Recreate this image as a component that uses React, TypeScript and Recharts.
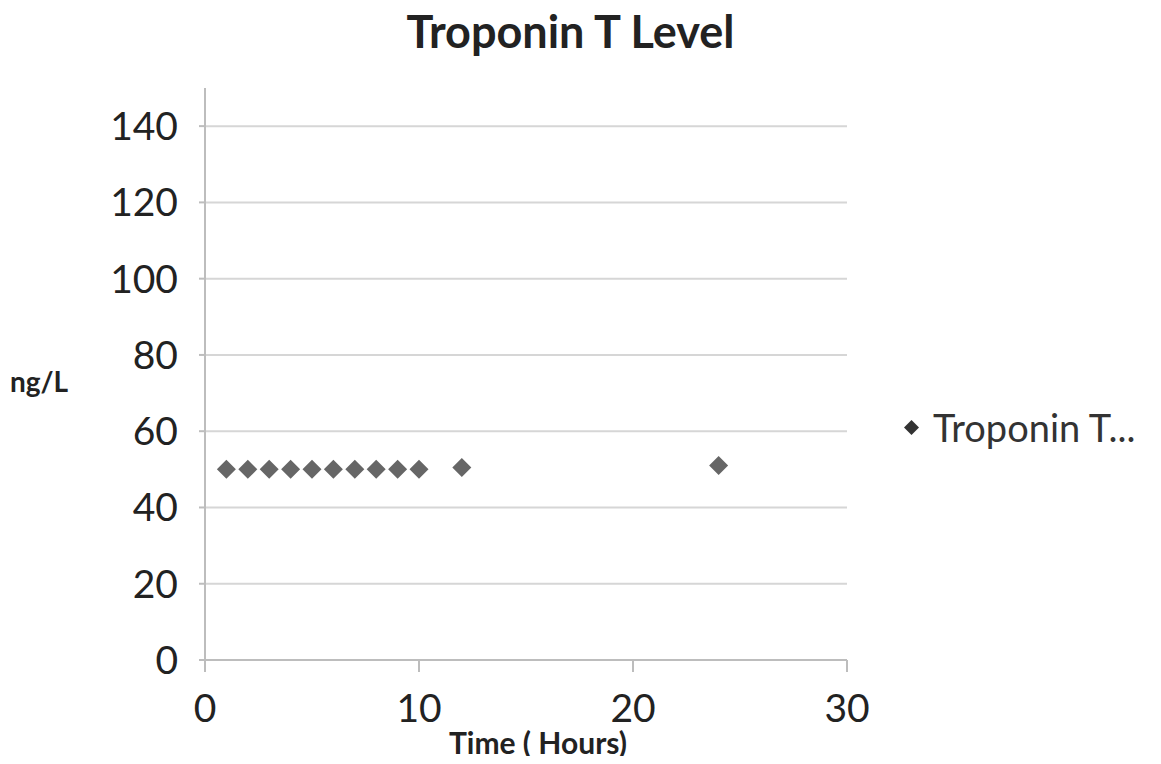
import React from 'react';
import { ScatterChart, Scatter, XAxis, YAxis, ReferenceLine } from 'recharts';

const hours = [1, 2, 3, 4, 5, 6, 7, 8, 9, 10, 12, 24];
const troponin = [50, 50, 50, 50, 50, 50, 50, 50, 50, 50, 50.5, 51];
const xTicks = [0, 10, 20, 30];
const yTicks = [0, 20, 40, 60, 80, 100, 120, 140];

const data = hours.map((h, i) => ({ hours: h, value: troponin[i] }));

const FONT = 'Lato, "Open Sans", sans-serif';

const Diamond = (props: any) => {
  const { cx, cy } = props;
  if (cx == null || cy == null) return null;
  const r = 9.5;
  return (
    <polygon
      points={`${cx},${cy - r} ${cx + r},${cy} ${cx},${cy + r} ${cx - r},${cy}`}
      fill="#666666"
    />
  );
};

export default function App() {
  return (
    <div style={{ position: 'relative', width: 1161, height: 764, margin: -8, background: '#fff' }}>
      <div
        style={{
          position: 'absolute',
          top: 4,
          left: 0,
          width: 1141,
          textAlign: 'center',
          fontFamily: FONT,
          fontWeight: 700,
          fontSize: 45,
          color: '#222',
        }}
      >
        Troponin T Level
      </div>
      <div
        style={{
          position: 'absolute',
          top: 364,
          left: 10,
          fontFamily: FONT,
          fontWeight: 700,
          fontSize: 28,
          color: '#222',
        }}
      >
        ng/L
      </div>
      <div
        style={{
          position: 'absolute',
          top: 724,
          left: 0,
          width: 1076,
          textAlign: 'center',
          fontFamily: FONT,
          fontWeight: 700,
          fontSize: 30,
          color: '#222',
        }}
      >
        Time ( Hours)
      </div>
      <div
        style={{
          position: 'absolute',
          top: 404,
          left: 903,
          display: 'flex',
          alignItems: 'center',
          fontFamily: FONT,
          fontSize: 38,
          color: '#333',
          whiteSpace: 'nowrap',
        }}
      >
        <svg width={17} height={17} style={{ marginRight: 13 }}>
          <polygon points="8.5,1 16,8.5 8.5,16 1,8.5" fill="#333" />
        </svg>
        <span>Troponin T...</span>
      </div>
      <ScatterChart
        width={1161}
        height={764}
        margin={{ top: 88, right: 314, bottom: 0, left: 0 }}
      >
        {yTicks.slice(1).map((t) => (
          <ReferenceLine key={t} y={t} stroke="#d6d6d6" strokeWidth={2} />
        ))}
        <XAxis
          type="number"
          dataKey="hours"
          domain={[0, 30]}
          ticks={xTicks}
          tickSize={12}
          tickMargin={22}
          height={104}
          axisLine={{ stroke: '#bdbdbd', strokeWidth: 2 }}
          tickLine={{ stroke: '#bdbdbd', strokeWidth: 2 }}
          tick={{ fontSize: 39, fill: '#222', fontFamily: FONT }}
        />
        <YAxis
          type="number"
          dataKey="value"
          domain={[0, 150]}
          ticks={yTicks}
          width={205}
          tickSize={6}
          tickMargin={21}
          axisLine={{ stroke: '#bdbdbd', strokeWidth: 2 }}
          tickLine={{ stroke: '#bdbdbd', strokeWidth: 2 }}
          tick={{ fontSize: 39, fill: '#222', fontFamily: FONT }}
        />
        <Scatter
          name="Troponin T Level"
          data={data}
          shape={<Diamond />}
          isAnimationActive={false}
        />
      </ScatterChart>
    </div>
  );
}
